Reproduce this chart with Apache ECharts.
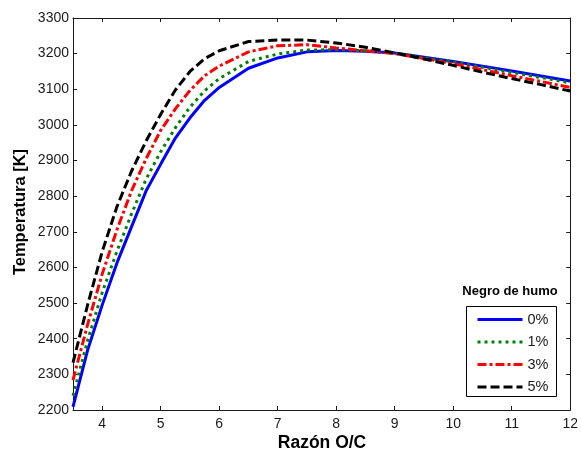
<!DOCTYPE html>
<html>
<head>
<meta charset="utf-8">
<script src="https://cdn.jsdelivr.net/npm/echarts@6/dist/echarts.min.js"></script>
<style>html,body{margin:0;padding:0;background:#fff;}#c{width:581px;height:452px;}</style>
</head>
<body>
<div id="c"></div>
<script>
// Data
var ratioOC = [3.5, 3.75, 4.0, 4.25, 4.5, 4.75, 5.0, 5.25, 5.5, 5.75, 6.0, 6.5, 7.0, 7.5, 8.0, 8.5, 9.0, 9.5, 10.0, 10.5, 11.0, 11.5, 12.0];
var temp0 = [2209, 2368, 2495, 2612, 2714, 2815, 2890, 2963, 3020, 3069, 3105, 3159, 3188, 3205, 3209, 3207, 3202, 3190, 3178, 3165, 3151, 3137, 3123];
var temp1 = [2240, 2395, 2530, 2645, 2750, 2848, 2925, 2992, 3050, 3096, 3130, 3178, 3199, 3210, 3211, 3208, 3202, 3189, 3177, 3162, 3147, 3133, 3118];
var temp3 = [2284, 2440, 2582, 2705, 2815, 2905, 2985, 3045, 3097, 3138, 3165, 3205, 3222, 3225, 3216, 3208, 3200, 3186, 3172, 3155, 3138, 3122, 3105];
var temp5 = [2333, 2495, 2645, 2770, 2870, 2955, 3030, 3098, 3150, 3186, 3208, 3234, 3238, 3238, 3230, 3218, 3202, 3185, 3167, 3148, 3130, 3113, 3095];
var seriesNames = ['0%', '1%', '3%', '5%'];
var xTicks = [4, 5, 6, 7, 8, 9, 10, 11, 12];
var xMin = 3.5, xMax = 12;
var yMin = 2200, yMax = 3300, yStep = 100;
var xTitle = 'Razón O/C';
var yTitle = 'Temperatura [K]';
var legendTitle = 'Negro de humo';

function pairs(ys) { return ratioOC.map(function (x, i) { return [x, ys[i]]; }); }

var FONT = 'Arial, "Liberation Sans", sans-serif';
var axisCol = '#1a1a1a';
var styles = [
  { color: '#0000ff', type: 'solid' },
  { color: '#008000', type: [3, 4] },
  { color: '#ff0000', type: [9, 3, 3, 3] },
  { color: '#000000', type: [9, 4] }
];
var allData = [temp0, temp1, temp3, temp5];

var chart = echarts.init(document.getElementById('c'), null, { renderer: 'canvas' });
var xBase = {
  type: 'value', min: xMin, max: xMax,
  splitLine: { show: false },
  axisLine: { show: true, onZero: false, lineStyle: { color: axisCol, width: 1 } },
  axisTick: { show: true, inside: true, length: 4, customValues: xTicks, lineStyle: { color: axisCol } }
};
var yBase = {
  type: 'value', min: yMin, max: yMax, interval: yStep,
  splitLine: { show: false },
  axisLine: { show: true, onZero: false, lineStyle: { color: axisCol, width: 1 } },
  axisTick: { show: true, inside: true, length: 4, lineStyle: { color: axisCol } }
};
var option = {
  animation: false,
  backgroundColor: '#fff',
  grid: { left: 73, right: 9, top: 18, bottom: 42, containLabel: false },
  xAxis: [
    Object.assign({}, xBase, { position: 'bottom',
      axisLabel: { show: true, customValues: xTicks, margin: 7, color: axisCol, fontSize: 14, fontFamily: FONT,
        formatter: function (v) { return String(v); } } }),
    Object.assign({}, xBase, { position: 'top', axisLabel: { show: false } })
  ],
  yAxis: [
    Object.assign({}, yBase, { position: 'left',
      axisLabel: { show: true, margin: 4, color: axisCol, fontSize: 14, fontFamily: FONT,
        formatter: function (v) { return String(v); } } }),
    Object.assign({}, yBase, { position: 'right', axisLabel: { show: false } })
  ],
  legend: {
    show: true, orient: 'vertical', left: 476, top: 312, padding: 0,
    itemWidth: 45, itemHeight: 14, itemGap: 7.5,
    data: seriesNames,
    itemStyle: { opacity: 0 },
    lineStyle: { width: 3 },
    textStyle: { fontSize: 14.5, fontFamily: FONT, color: axisCol }
  },
  graphic: [
    { type: 'rect', shape: { x: 466.5, y: 306.5, width: 90, height: 90 },
      style: { fill: 'none', stroke: '#000', lineWidth: 1 }, z: 10 },
    { type: 'text', x: 510, y: 291,
      style: { text: legendTitle, font: 'bold 13px ' + FONT, fill: '#000', textAlign: 'center', textVerticalAlign: 'middle' } },
    { type: 'text', x: 322, y: 443,
      style: { text: xTitle, font: 'bold 17.5px ' + FONT, fill: '#000', textAlign: 'center', textVerticalAlign: 'middle' } },
    { type: 'text', x: 20, y: 212, rotation: Math.PI / 2,
      style: { text: yTitle, font: 'bold 16.5px ' + FONT, fill: '#000', textAlign: 'center', textVerticalAlign: 'middle' } }
  ],
  series: seriesNames.map(function (n, i) {
    return {
      name: n, type: 'line', data: pairs(allData[i]),
      xAxisIndex: 0, yAxisIndex: 0,
      symbol: 'none', showSymbol: false, smooth: false,
      itemStyle: { color: styles[i].color },
      lineStyle: { color: styles[i].color, width: 3, type: styles[i].type, cap: 'butt' },
      z: 2 + i
    };
  })
};
chart.setOption(option);
</script>
</body>
</html>
